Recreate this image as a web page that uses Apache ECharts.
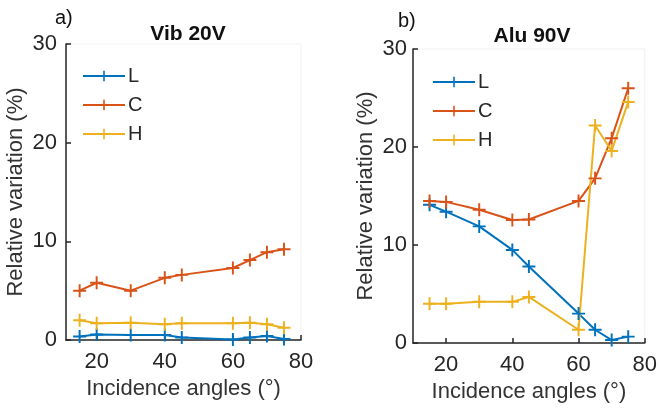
<!DOCTYPE html>
<html><head><meta charset="utf-8">
<script src="https://cdn.jsdelivr.net/npm/echarts@6/dist/echarts.min.js"></script>
<style>html,body{margin:0;padding:0;background:#fff}#c{width:660px;height:409px}</style>
</head><body><div id="c"></div>
<script>
const angles = [15, 20, 30, 40, 45, 60, 65, 70, 75];
const vibL = [0.35, 0.55, 0.5, 0.5, 0.25, 0.05, 0.25, 0.4, 0.1];
const vibC = [5.0, 5.8, 5.0, 6.3, 6.6, 7.3, 8.1, 8.9, 9.2];
const vibH = [2.0, 1.7, 1.75, 1.6, 1.7, 1.7, 1.75, 1.6, 1.25];
const aluL = [14.1, 13.4, 11.9, 9.5, 7.8, 3.0, 1.35, 0.3, 0.65];
const aluC = [14.5, 14.4, 13.6, 12.55, 12.6, 14.5, 16.8, 20.9, 26.0];
const aluH = [4.0, 4.0, 4.2, 4.2, 4.7, 1.35, 22.2, 19.6, 24.6];
const xTicks = [20, 40, 60, 80];
const seriesNames = ['L', 'C', 'H'];
const colors = ['#0072BD', '#D95319', '#EDB120'];

const FONT = "'Liberation Sans', Arial, sans-serif";
const TXT = '#262626';
const plus = 'path://M8.5,0 H11.5 V8.5 H20 V11.5 H11.5 V20 H8.5 V11.5 H0 V8.5 H8.5 Z';

function pairs(ys) { return angles.map((a, i) => [a, ys[i]]); }

function xAxis(gi, min) {
  return {
    gridIndex: gi, type: 'value', min: min, max: 80,
    name: 'Incidence angles (°)', nameLocation: 'middle', nameGap: 36,
    nameTextStyle: { fontSize: 22, color: '#333', fontFamily: FONT },
    axisLine: { show: true, lineStyle: { color: TXT, width: 1.5 } },
    axisTick: { show: true, inside: true, length: 5, customValues: xTicks, lineStyle: { color: TXT, width: 1.5 } },
    axisLabel: { customValues: xTicks, fontSize: 22, color: TXT, fontFamily: FONT, margin: 11 },
    splitLine: { show: false }
  };
}
function yAxis(gi, nameGap, margin) {
  return {
    gridIndex: gi, type: 'value', min: 0, max: 30, interval: 10,
    name: 'Relative variation (%)', nameLocation: 'middle', nameGap: nameGap,
    nameTextStyle: { fontSize: 22, color: '#333', fontFamily: FONT },
    axisLine: { show: true, lineStyle: { color: TXT, width: 1.5 } },
    axisTick: { show: true, inside: true, length: 5, lineStyle: { color: TXT, width: 1.5 } },
    axisLabel: { fontSize: 22, color: TXT, fontFamily: FONT, margin: margin },
    splitLine: { show: false }
  };
}
function mk(name, ys, gi, ci) {
  return {
    name: name, type: 'line', xAxisIndex: gi, yAxisIndex: gi,
    data: pairs(ys), symbol: plus, symbolSize: 13,
    lineStyle: { width: 2, color: colors[ci] },
    itemStyle: { color: colors[ci], borderWidth: 0 },
    emphasis: { disabled: true }, animation: false
  };
}
function legend(left, top) {
  return {
    left: left, top: top, orient: 'vertical', itemWidth: 42, itemHeight: 13, itemGap: 9,
    data: seriesNames, textStyle: { fontSize: 20, color: '#262626', fontFamily: FONT, padding: [0, 0, 0, -2] },
    selectedMode: false
  };
}

const chart = echarts.init(document.getElementById('c'), null, { renderer: 'canvas' });
chart.setOption({
  backgroundColor: '#fff',
  animation: false,
  textStyle: { fontFamily: FONT },
  title: [
    { text: 'Vib 20V', left: 183, top: 19, textAlign: 'center', textStyle: { fontSize: 21, fontWeight: 'bold', color: '#111', fontFamily: FONT } },
    { text: 'Alu 90V', left: 527, top: 21, textAlign: 'center', textStyle: { fontSize: 21, fontWeight: 'bold', color: '#111', fontFamily: FONT } },
    { text: 'a)', left: 50, top: 3, textStyle: { fontSize: 20, fontWeight: 'normal', color: '#111', fontFamily: FONT } },
    { text: 'b)', left: 393, top: 6, textStyle: { fontSize: 20, fontWeight: 'normal', color: '#111', fontFamily: FONT } }
  ],
  grid: [
    { left: 66, top: 44, width: 235, height: 296, show: true, borderColor: '#f0f0f0', borderWidth: 1, backgroundColor: 'transparent' },
    { left: 413, top: 49, width: 236, height: 294, show: true, borderColor: '#f0f0f0', borderWidth: 1, backgroundColor: 'transparent' }
  ],
  xAxis: [xAxis(0, 11), xAxis(1, 10)],
  yAxis: [yAxis(0, 39, 9), yAxis(1, 36, 6)],
  legend: [legend(77, 61), legend(427, 67)],
  series: [
    mk('L', vibL, 0, 0), mk('C', vibC, 0, 1), mk('H', vibH, 0, 2),
    mk('L', aluL, 1, 0), mk('C', aluC, 1, 1), mk('H', aluH, 1, 2)
  ]
});
</script></body></html>
